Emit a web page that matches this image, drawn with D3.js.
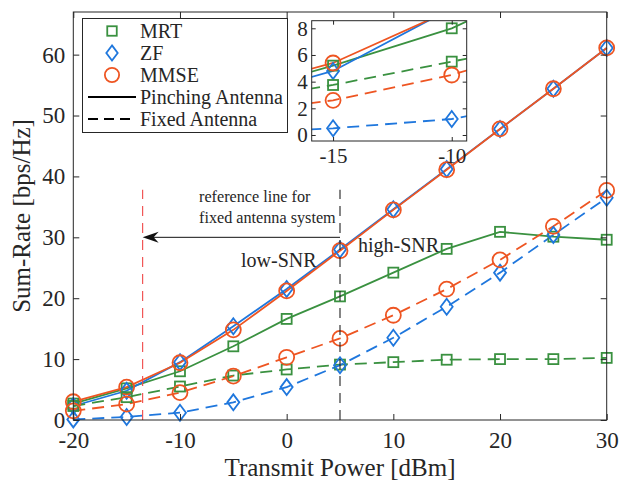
<html>
<head>
<script src="https://d3js.org/d3.v7.min.js"></script>
<style>
    body { margin: 0; background: #fff; }
    text { font-family: "Liberation Serif", "Times New Roman", serif; fill: #262626; }
    .frame { fill: none; stroke: #262626; stroke-width: 1; }
    .axis path { display: none; }
    .axis line { stroke: #262626; }
</style>
</head>
<body>
<svg id="chart" width="619" height="483"></svg>
<script>
// chart values
const power = [-20, -15, -10, -5, 0, 5, 10, 15, 20, 25, 30];
const mrtPinching  = [2.7, 5.2, 8.0, 12.1, 16.6, 20.3, 24.2, 28.1, 30.9, 30.1, 29.6];
const zfPinching   = [2.3, 4.8, 9.5, 15.4, 21.5, 28.0, 34.6, 41.2, 47.8, 54.4, 61.1];
const mmsePinching = [3.0, 5.4, 9.4, 14.8, 21.2, 27.8, 34.5, 41.1, 47.8, 54.4, 61.1];
const mrtFixed  = [2.3, 3.75, 5.5, 7.3, 8.3, 9.1, 9.5, 9.9, 10.0, 10.0, 10.2];
const zfFixed   = [0.1, 0.5, 1.2, 2.9, 5.4, 9.0, 13.5, 18.6, 24.2, 30.4, 36.5];
const mmseFixed = [1.5, 2.6, 4.5, 7.2, 10.3, 13.4, 17.2, 21.5, 26.3, 31.8, 37.7];
const xTicks = [-20, -10, 0, 10, 20, 30];
const yTicks = [0, 10, 20, 30, 40, 50, 60];
const insetXTicks = [-15, -10];
const insetYTicks = [0, 2, 4, 6, 8];
const legendNames = ['MRT', 'ZF', 'MMSE'];
const legendStyles = ['Pinching Antenna', 'Fixed Antenna'];

const colors = { MRT: '#3a9140', ZF: '#1f77dd', MMSE: '#ee5522' };

const series = [
    { name: 'MRT', values: mrtPinching, dashed: false },
    { name: 'ZF', values: zfPinching, dashed: false },
    { name: 'MMSE', values: mmsePinching, dashed: false },
    { name: 'MRT', values: mrtFixed, dashed: true },
    { name: 'ZF', values: zfFixed, dashed: true },
    { name: 'MMSE', values: mmseFixed, dashed: true }
];

const svg = d3.select('#chart');

const x = d3.scaleLinear().domain([-20, 30]).range([73.3, 606.7]);
const y = d3.scaleLinear().domain([0, 67]).range([420, 12]);

// draws a marker shape centred at 0,0
function marker(sel, name, scale) {
    const s = scale || 1;
    const col = colors[name];
    if (name === 'MRT') {
        sel.append('rect').attr('x', -5 * s).attr('y', -5 * s)
            .attr('width', 10 * s).attr('height', 10 * s);
    } else if (name === 'ZF') {
        sel.append('path').attr('d', `M0,${-8 * s}L${6 * s},0L0,${8 * s}L${-6 * s},0Z`);
    } else {
        sel.append('circle').attr('r', 7.5 * s);
    }
    sel.selectAll('*').attr('fill', 'none').attr('stroke', col).attr('stroke-width', 1.8);
}

function drawSeries(g, sx, sy) {
    const line = d3.line().x((d, i) => sx(power[i])).y(d => sy(d));
    series.forEach(s => {
        g.append('path')
            .attr('d', line(s.values))
            .attr('fill', 'none')
            .attr('stroke', colors[s.name])
            .attr('stroke-width', 1.8)
            .attr('stroke-dasharray', s.dashed ? '12,7' : null);
    });
    series.forEach(s => {
        s.values.forEach((v, i) => {
            const m = g.append('g').attr('transform', `translate(${sx(power[i])},${sy(v)})`);
            marker(m, s.name);
        });
    });
}

// main axes
const plot = svg.append('g');
drawSeries(plot, x, y);

// reference lines
plot.append('line')
    .attr('x1', x(-13.5)).attr('x2', x(-13.5))
    .attr('y1', y(0)).attr('y2', y(37.8))
    .attr('stroke', '#f04848').attr('stroke-width', 1.1)
    .attr('stroke-dasharray', '10,7');
plot.append('line')
    .attr('x1', x(5)).attr('x2', x(5))
    .attr('y1', y(0)).attr('y2', y(37.8))
    .attr('stroke', '#222').attr('stroke-width', 1.1)
    .attr('stroke-dasharray', '10,7');

// arrow
const ay = y(30);
plot.append('line')
    .attr('x1', x(5)).attr('x2', x(-13.5) + 4)
    .attr('y1', ay).attr('y2', ay)
    .attr('stroke', '#111').attr('stroke-width', 1);
const tip = x(-13.5);
plot.append('path')
    .attr('d', `M${tip},${ay}L${tip + 16},${ay - 5.5}L${tip + 11},${ay}L${tip + 16},${ay + 5.5}Z`)
    .attr('fill', '#111');

plot.append('text').attr('x', 199).attr('y', 202).attr('font-size', 16.2).text('reference line for');
plot.append('text').attr('x', 199).attr('y', 223).attr('font-size', 16.2).text('fixed antenna system');
plot.append('text').attr('x', 241).attr('y', 267).attr('font-size', 20).attr('fill', '#111').text('low-SNR');
plot.append('text').attr('x', 358).attr('y', 252).attr('font-size', 20).attr('fill', '#111').text('high-SNR');

// axes ticks
const fmt = d => String(d);
svg.append('g').attr('class', 'axis').attr('transform', `translate(0,${y(0)})`)
    .call(d3.axisBottom(x).tickValues(xTicks).tickSize(-6).tickPadding(12).tickFormat(fmt))
    .selectAll('text').attr('font-size', 23);
svg.append('g').attr('class', 'axis').attr('transform', `translate(0,${y(67)})`)
    .call(d3.axisTop(x).tickValues(xTicks).tickSize(-6).tickFormat(''));
svg.append('g').attr('class', 'axis').attr('transform', `translate(${x(-20)},0)`)
    .call(d3.axisLeft(y).tickValues(yTicks).tickSize(-6).tickPadding(8).tickFormat(fmt))
    .selectAll('text').attr('font-size', 23);
svg.append('g').attr('class', 'axis').attr('transform', `translate(${x(30)},0)`)
    .call(d3.axisRight(y).tickValues(yTicks).tickSize(-6).tickFormat(''));
svg.append('rect').attr('class', 'frame')
    .attr('x', x(-20)).attr('y', y(67))
    .attr('width', x(30) - x(-20)).attr('height', y(0) - y(67));

svg.append('text')
    .attr('x', (x(-20) + x(30)) / 2).attr('y', 476)
    .attr('text-anchor', 'middle').attr('font-size', 25)
    .text('Transmit Power [dBm]');
svg.append('text')
    .attr('transform', `translate(30,${(y(0) + y(67)) / 2}) rotate(-90)`)
    .attr('text-anchor', 'middle').attr('font-size', 25)
    .text('Sum-Rate [bps/Hz]');

// legend
const lg = svg.append('g');
lg.append('rect').attr('x', 82.5).attr('y', 18.5).attr('width', 205).attr('height', 114)
    .attr('fill', '#fff').attr('stroke', '#262626').attr('stroke-width', 1);
const rowY = [31, 53, 75, 97, 119];
legendNames.forEach((n, i) => {
    const m = lg.append('g').attr('transform', `translate(112,${rowY[i]})`);
    marker(m, n, 0.95);
    lg.append('text').attr('x', 140).attr('y', rowY[i] + 7).attr('font-size', 20).text(n);
});
legendStyles.forEach((n, i) => {
    const ry = rowY[3 + i];
    lg.append('line').attr('x1', 88).attr('x2', 136).attr('y1', ry).attr('y2', ry)
        .attr('stroke', '#000').attr('stroke-width', 1.8)
        .attr('stroke-dasharray', i === 1 ? '10,6' : null);
    lg.append('text').attr('x', 140).attr('y', ry + 7).attr('font-size', 20).text(n);
});

// inset
const ix = d3.scaleLinear().domain([-15.9, -9.37]).range([311.7, 466.7]);
const iy = d3.scaleLinear().domain([-0.45, 8.57]).range([141, 20.7]);
const inset = svg.append('g');
inset.append('rect').attr('x', ix(-15.9)).attr('y', iy(8.57))
    .attr('width', ix(-9.37) - ix(-15.9)).attr('height', iy(-0.45) - iy(8.57))
    .attr('fill', '#fff');
svg.append('clipPath').attr('id', 'insetClip').append('rect')
    .attr('x', ix(-15.9)).attr('y', iy(8.57))
    .attr('width', ix(-9.37) - ix(-15.9)).attr('height', iy(-0.45) - iy(8.57));
const insetPlot = inset.append('g').attr('clip-path', 'url(#insetClip)');
drawSeries(insetPlot, ix, iy);

inset.append('g').attr('class', 'axis').attr('transform', `translate(0,${iy(-0.45)})`)
    .call(d3.axisBottom(ix).tickValues(insetXTicks).tickSize(-4).tickPadding(7).tickFormat(fmt))
    .selectAll('text').attr('font-size', 21);
inset.append('g').attr('class', 'axis').attr('transform', `translate(0,${iy(8.57)})`)
    .call(d3.axisTop(ix).tickValues(insetXTicks).tickSize(-4).tickFormat(''));
inset.append('g').attr('class', 'axis').attr('transform', `translate(${ix(-15.9)},0)`)
    .call(d3.axisLeft(iy).tickValues(insetYTicks).tickSize(-4).tickPadding(4).tickFormat(fmt))
    .selectAll('text').attr('font-size', 21);
inset.append('g').attr('class', 'axis').attr('transform', `translate(${ix(-9.37)},0)`)
    .call(d3.axisRight(iy).tickValues(insetYTicks).tickSize(-4).tickFormat(''));
inset.append('rect').attr('class', 'frame')
    .attr('x', ix(-15.9)).attr('y', iy(8.57))
    .attr('width', ix(-9.37) - ix(-15.9)).attr('height', iy(-0.45) - iy(8.57));
</script>
</body>
</html>
